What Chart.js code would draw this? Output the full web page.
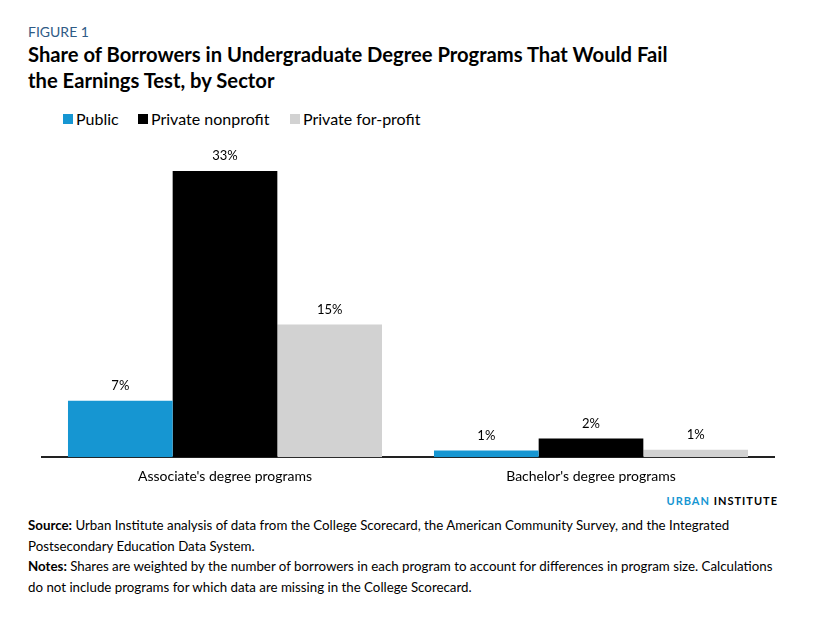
<!DOCTYPE html>
<html>
<head>
<meta charset="utf-8">
<script src="https://cdn.jsdelivr.net/npm/chart.js@4.4.1/dist/chart.umd.min.js"></script>
<style>
    body {
        margin: 0;
        width: 814px;
        height: 621px;
        background: #ffffff;
        font-family: Lato, "Noto Sans", sans-serif;
        color: #000;
        position: relative;
        overflow: hidden;
    }
    .fig-label {
        position: absolute;
        left: 28px;
        top: 23px;
        font-size: 14px;
        line-height: 18px;
        color: #2f5b86;
    }
    .title {
        position: absolute;
        left: 28px;
        top: 41px;
        font-size: 20.2px;
        line-height: 26px;
        font-weight: bold;
        color: #000;
    }
    .legend-item {
        position: absolute;
        top: 110px;
        font-size: 16px;
        line-height: 18px;
        display: flex;
        align-items: center;
        white-space: nowrap;
    }
    .legend-item span.box {
        width: 10px;
        height: 10px;
        margin-right: 3px;
        display: inline-block;
    }
    #chartWrap {
        position: absolute;
        left: 0;
        top: 100px;
        width: 814px;
        height: 388px;
    }
    .brand {
        position: absolute;
        right: 36px;
        top: 494px;
        font-size: 11px;
        font-weight: bold;
        letter-spacing: 1px;
        line-height: 14px;
    }
    .brand .urban { color: #1696d2; }
    .notes {
        position: absolute;
        left: 28px;
        top: 515px;
        width: 752px;
        font-size: 13.3px;
        line-height: 20.5px;
        color: #000;
    }
</style>
</head>
<body>
<div class="fig-label">FIGURE 1</div>
<div class="title">Share of Borrowers in Undergraduate Degree Programs That Would Fail<br>the Earnings Test, by Sector</div>
<div id="legend"></div>
<div id="chartWrap"><canvas id="sectorChart"></canvas></div>
<div class="brand"><span class="urban">URBAN</span> INSTITUTE</div>
<div class="notes">
    <b>Source:</b> Urban Institute analysis of data from the College Scorecard, the American Community Survey, and the Integrated Postsecondary Education Data System.<br>
    <b>Notes:</b> Shares are weighted by the number of borrowers in each program to account for differences in program size. Calculations do not include programs for which data are missing in the College Scorecard.
</div>

<script>
// Datos (porcentaje de prestatarios)
const categories = ["Associate's degree programs", "Bachelor's degree programs"];
const sectors = ['Public', 'Private nonprofit', 'Private for-profit'];
const publicValues = [6.5, 0.77];
const nonprofitValues = [33, 2.16];
const forprofitValues = [15.3, 0.85];
const sectorColors = ['#1696d2', '#000000', '#d2d2d2'];

// Leyenda en HTML
const legendEl = document.getElementById('legend');
const legendLeft = [63, 138, 290];
sectors.forEach((name, i) => {
    const item = document.createElement('div');
    item.className = 'legend-item';
    item.style.left = legendLeft[i] + 'px';
    item.innerHTML = `<span class="box" style="background:${sectorColors[i]}"></span>${name}`;
    legendEl.appendChild(item);
});

// Etiquetas de valor encima de cada barra
const valueLabels = {
    id: 'valueLabels',
    afterDatasetsDraw(chart) {
        const ctx = chart.ctx;
        ctx.save();
        ctx.font = '13px Lato, "Noto Sans", sans-serif';
        ctx.fillStyle = '#000';
        ctx.textAlign = 'center';
        ctx.textBaseline = 'middle';
        chart.data.datasets.forEach((ds, i) => {
            const meta = chart.getDatasetMeta(i);
            meta.data.forEach((bar, j) => {
                ctx.fillText(Math.round(ds.data[j]) + '%', bar.x, bar.y - 15);
            });
        });
        ctx.restore();
    }
};

const ctx = document.getElementById('sectorChart').getContext('2d');
new Chart(ctx, {
    type: 'bar',
    data: {
        labels: categories,
        datasets: [
            { label: sectors[0], data: publicValues, backgroundColor: sectorColors[0] },
            { label: sectors[1], data: nonprofitValues, backgroundColor: sectorColors[1] },
            { label: sectors[2], data: forprofitValues, backgroundColor: sectorColors[2] }
        ]
    },
    options: {
        responsive: true,
        maintainAspectRatio: false,
        animation: false,
        categoryPercentage: 0.858,
        barPercentage: 1.0,
        layout: {
            padding: { left: 42, right: 40, top: 45, bottom: 0 }
        },
        plugins: {
            legend: { display: false },
            title: { display: false },
            tooltip: { enabled: false }
        },
        scales: {
            y: {
                display: false,
                min: 0,
                max: 36
            },
            x: {
                grid: { display: false },
                border: { display: true, color: '#222', width: 2 },
                ticks: {
                    color: '#000',
                    padding: 3,
                    font: { family: 'Lato', size: 14 }
                }
            }
        }
    },
    plugins: [valueLabels]
});
</script>
</body>
</html>
